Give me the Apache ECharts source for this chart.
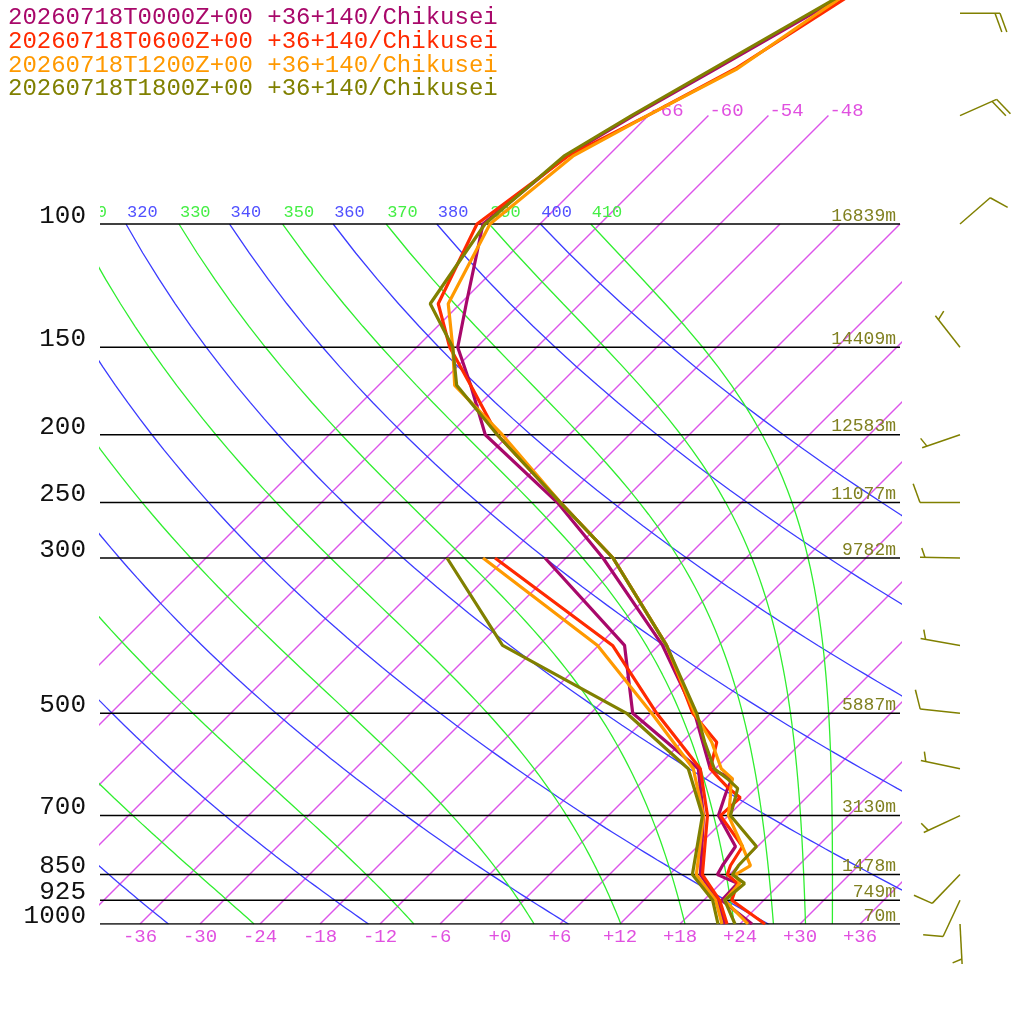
<!DOCTYPE html>
<html>
<head>
<meta charset="utf-8">
<script src="https://cdn.jsdelivr.net/npm/echarts@6/dist/echarts.min.js"></script>
<style>html,body{margin:0;padding:0;background:#fff}#c{width:1024px;height:1024px}</style>
</head>
<body>
<div id="c"></div>
<script>
// ---------------- data ----------------
const TITLES = [
  '20260718T0000Z+00 +36+140/Chikusei',
  '20260718T0600Z+00 +36+140/Chikusei',
  '20260718T1200Z+00 +36+140/Chikusei',
  '20260718T1800Z+00 +36+140/Chikusei'
];
const PROFILE_COLORS = ['#A8086A', '#FF2A00', '#FF9900', '#808000'];

// temperature profiles (deg C)
const TEMP_LEVELS = [1000, 925, 875, 850, 825, 775, 700, 660, 640, 620, 600, 550, 500, 400, 300, 250, 200, 170, 150, 130, 100, 80, 70, 60, 50, 40];
const TEMP_00 = [25.2, 19.8, 19.7, 16.8, 16.4, 15.8, 11.0, 9.8, 9.2, 8.7, 5.5, 2.1, -1.6, -11.6, -26.3, -36.4, -50.4, -56.8, -61.9, -65.4, -71.7, -70.2, -67.5, -63.9, -59.8, -54.6];
const TEMP_06 = [26.5, 20.8, 19.7, 17.8, 17.2, 16.5, 11.2, 11.4, 9.3, 7.4, 5.5, 3.5, -1.8, -11.2, -25.3, -36.1, -49.2, -56.8, -62.7, -68.2, -72.3, -70.0, -66.1, -62.0, -58.9, -55.0];
const TEMP_12 = [24.8, 20.1, 19.9, 18.6, 19.2, 16.5, 12.0, 10.4, 9.5, 8.7, 6.6, 3.0, -1.6, -11.2, -25.3, -36.1, -48.7, -58.4, -62.4, -67.2, -71.0, -69.5, -66.1, -61.8, -59.3, -56.0];
const TEMP_18 = [23.5, 20.1, 20.4, 18.3, 18.0, 17.9, 12.2, 10.9, 10.2, 8.2, 5.9, 2.3, -1.4, -11.2, -25.3, -36.1, -49.2, -58.2, -62.4, -69.0, -71.5, -70.4, -67.7, -64.2, -60.1, -55.0];

// dew point profiles (deg C)
const DEW_LEVELS = [1000, 925, 850, 700, 600, 500, 400, 300];
const DEW_00 = [22.5, 19.4, 15.1, 9.5, 4.3, -7.8, -15.4, -32.1];
const DEW_06 = [22.7, 19.6, 15.3, 9.9, 4.5, -5.4, -16.6, -37.1];
const DEW_12 = [22.2, 19.2, 14.7, 9.5, 3.8, -5.9, -18.1, -38.3];
const DEW_18 = [21.8, 18.9, 14.3, 9.4, 3.3, -8.4, -27.6, -41.9];

// standard levels with heights (last run)
const STD_LEVELS = [100, 150, 200, 250, 300, 500, 700, 850, 925, 1000];
const STD_HEIGHTS = ['16839m', '14409m', '12583m', '11077m', '9782m', '5887m', '3130m', '1478m', '749m', '70m'];

// winds (last run)
const WIND_LEVELS = [50, 70, 100, 150, 200, 250, 300, 400, 500, 600, 700, 850, 925, 1000];
const WIND_DIR = [90, 66, 49, 322, 251, 270, 271, 280, 276, 282, 245, 224, 205, 177];
const WIND_KT = [20, 20, 10, 5, 5, 10, 5, 5, 10, 5, 5, 10, 10, 5];

// background diagram
const ISOTHERMS = [-66, -60, -54, -48, -42, -36, -30, -24, -18, -12, -6, 0, 6, 12, 18, 24, 30, 36];
const UPPER_ISOTHERMS = [-66, -60, -54, -48];
const DRY_THETAS = [240, 260, 280, 300, 320, 340, 360, 380, 400];
const MOIST_THETAES = [250, 270, 290, 310, 330, 350, 370, 390, 410];
const TEMP_TICKS = [-36, -30, -24, -18, -12, -6, 0, 6, 12, 18, 24, 30, 36];

// ---------------- diagram settings ----------------
const X_MIN = -40, X_MAX = 40, P_TOP = 47.86, P_BOT = 1000;
const SKEW = 70;           // deg C per decade of pressure
const BARB_X = 46;         // column of wind barbs (skewed units)
const ISO_TOP = 70, ADIA_TOP = 100;
const FONT = '"Liberation Mono", "DejaVu Sans Mono", monospace';
const ISO_COLOR = '#DC55EA', DRY_COLOR = '#3C3CFF', MOIST_COLOR = '#30EE30';

function skewX(T, p) { return T + SKEW * Math.log10(1000 / p); }
function dryT(theta, p) { return theta * Math.pow(p / 1000, 0.2857) - 273.15; }
function thetaE(T, p) {
  const TK = T + 273.15;
  const e = 6.112 * Math.exp(17.67 * T / (T + 243.5));
  if (e > 0.8 * p) return 1e9;
  const r = 622 * e / (p - e);
  return TK * Math.pow(1000 / p, 0.2854 * (1 - 0.00028 * r)) * Math.exp((3.376 / TK - 0.00254) * r * (1 + 0.00081 * r));
}
function moistT(te, p) {
  let lo = -160, hi = 60;
  for (let i = 0; i < 60; i++) {
    const mid = (lo + hi) / 2;
    if (thetaE(mid, p) > te) hi = mid; else lo = mid;
  }
  return (lo + hi) / 2;
}
function pSteps(top) {
  const a = [];
  for (let p = 1000; p > top; p -= 10) a.push(p);
  a.push(top);
  return a;
}

const series = [];
function addLine(data, color, width, z, clip) {
  series.push({ type: 'line', data: data, symbol: 'none', showSymbol: false, silent: true, animation: false,
    clip: clip !== false, z: z, color: color, itemStyle: { color: color },
    lineStyle: { color: color, width: width, opacity: 1 }, emphasis: { disabled: true } });
}

// isotherms
ISOTHERMS.forEach(function (T) {
  const top = UPPER_ISOTHERMS.indexOf(T) >= 0 ? ISO_TOP : ADIA_TOP;
  addLine([[skewX(T, P_BOT), P_BOT], [skewX(T, top), top]], ISO_COLOR, 1.4, 1);
});
// dry adiabats
DRY_THETAS.forEach(function (th) {
  addLine(pSteps(ADIA_TOP).map(function (p) { return [skewX(dryT(th, p), p), p]; }), DRY_COLOR, 1.3, 1);
});
// pseudo adiabats
MOIST_THETAES.forEach(function (te) {
  addLine(pSteps(ADIA_TOP).map(function (p) { return [skewX(moistT(te, p), p), p]; }), MOIST_COLOR, 1.3, 1);
});
// pressure lines
STD_LEVELS.forEach(function (p) {
  addLine([[X_MIN, p], [X_MAX, p]], '#000000', 1.5, 2);
});
// profiles
[[TEMP_00, DEW_00], [TEMP_06, DEW_06], [TEMP_12, DEW_12], [TEMP_18, DEW_18]].forEach(function (pr, i) {
  addLine(TEMP_LEVELS.map(function (p, k) { return [skewX(pr[0][k], p), p]; }), PROFILE_COLORS[i], 3.2, 10 + i, true);
  addLine(DEW_LEVELS.map(function (p, k) { return [skewX(pr[1][k], p), p]; }), PROFILE_COLORS[i], 3.2, 10 + i, true);
});

// text helper
function textSeries(points, texts, colorsArr, font, dx, dy, align, clip, z) {
  series.push({
    type: 'custom', coordinateSystem: 'cartesian2d', clip: clip, silent: true, animation: false, z: z,
    data: points,
    renderItem: function (params, api) {
      const c = api.coord([api.value(0), api.value(1)]);
      const col = Array.isArray(colorsArr) ? colorsArr[params.dataIndex] : colorsArr;
      return { type: 'text', x: c[0] + dx, y: c[1] + dy,
        style: { text: texts[params.dataIndex], fill: col, font: font, align: align, verticalAlign: 'middle' } };
    }
  });
}
// adiabat labels at 100 hPa
const adLabels = [], adPts = [], adCols = [];
const allTh = DRY_THETAS.map(function (t) { return [t, 'd']; }).concat(MOIST_THETAES.map(function (t) { return [t, 'm']; }))
  .sort(function (a, b) { return a[0] - b[0]; });
allTh.forEach(function (a) {
  const T = a[1] === 'd' ? dryT(a[0], ADIA_TOP) : moistT(a[0], ADIA_TOP);
  adPts.push([skewX(T, ADIA_TOP), ADIA_TOP]);
  adLabels.push(String(a[0]));
  adCols.push(a[1] === 'd' ? '#5050FF' : '#44EE44');
});
textSeries(adPts, adLabels, adCols, '17px ' + FONT, 1, -12, 'left', true, 3);
// isotherm labels at 70 hPa
textSeries(UPPER_ISOTHERMS.map(function (T) { return [skewX(T, ISO_TOP), ISO_TOP]; }),
  UPPER_ISOTHERMS.map(function (T) { return String(T); }), '#E050E0', '19px ' + FONT, 1, -5, 'left', false, 3);
// bottom temperature labels
textSeries(TEMP_TICKS.map(function (T) { return [T, P_BOT]; }),
  TEMP_TICKS.map(function (T) { return T >= 0 ? '+' + T : String(T); }), '#E050E0', '19px ' + FONT, 0, 13, 'center', false, 3);
// pressure labels
textSeries(STD_LEVELS.map(function (p) { return [X_MIN, p]; }),
  STD_LEVELS.map(function (p) { return String(p); }), '#111111', '26px ' + FONT, -14, -8, 'right', false, 3);
// height labels
textSeries(STD_LEVELS.map(function (p) { return [X_MAX, p]; }), STD_HEIGHTS, '#808020', '18px ' + FONT, -4, -8, 'right', false, 3);

// wind barbs
series.push({
  type: 'custom', coordinateSystem: 'cartesian2d', clip: false, silent: true, animation: false, z: 5,
  data: WIND_LEVELS.map(function (p, i) { return [BARB_X, p, WIND_DIR[i], WIND_KT[i]]; }),
  renderItem: function (params, api) {
    const c = api.coord([api.value(0), api.value(1)]);
    const d = api.value(2) * Math.PI / 180, spd = api.value(3);
    const ux = Math.sin(d), uy = -Math.cos(d);
    const L = 40, col = '#808000';
    const ex = c[0] + ux * L, ey = c[1] + uy * L;
    const th = Math.atan2(uy, ux) + 70 * Math.PI / 180;
    const bx = Math.cos(th), by = Math.sin(th);
    const st = { stroke: col, lineWidth: 1.5 };
    const ch = [{ type: 'line', shape: { x1: c[0], y1: c[1], x2: ex, y2: ey }, style: st }];
    const n = Math.round(spd / 5), full = Math.floor(n / 2), half = n % 2;
    let pos = (full === 0 && half) ? 1 : 0;
    for (let k = 0; k < full; k++) {
      const sx = ex - ux * 5 * pos, sy = ey - uy * 5 * pos;
      ch.push({ type: 'line', shape: { x1: sx, y1: sy, x2: sx + bx * 20, y2: sy + by * 20 }, style: st });
      pos++;
    }
    if (half) {
      const sx = ex - ux * 5 * pos, sy = ey - uy * 5 * pos;
      ch.push({ type: 'line', shape: { x1: sx, y1: sy, x2: sx + bx * 10, y2: sy + by * 10 }, style: st });
    }
    return { type: 'group', children: ch };
  }
});

const chart = echarts.init(document.getElementById('c'), null, { renderer: 'canvas' });
chart.setOption({
  backgroundColor: '#ffffff',
  animation: false,
  title: TITLES.map(function (t, i) {
    return { text: t, left: 8, top: 6 + i * 23.7, padding: 0,
      textStyle: { color: PROFILE_COLORS[i], fontFamily: FONT, fontWeight: 'normal', fontSize: 24 } };
  }),
  grid: { left: 100, top: 0, width: 800, height: 924, containLabel: false },
  xAxis: { type: 'value', min: X_MIN, max: X_MAX, show: false },
  yAxis: { type: 'log', logBase: 10, min: P_TOP, max: P_BOT, inverse: true, show: false },
  series: series
});
</script>
</body>
</html>
